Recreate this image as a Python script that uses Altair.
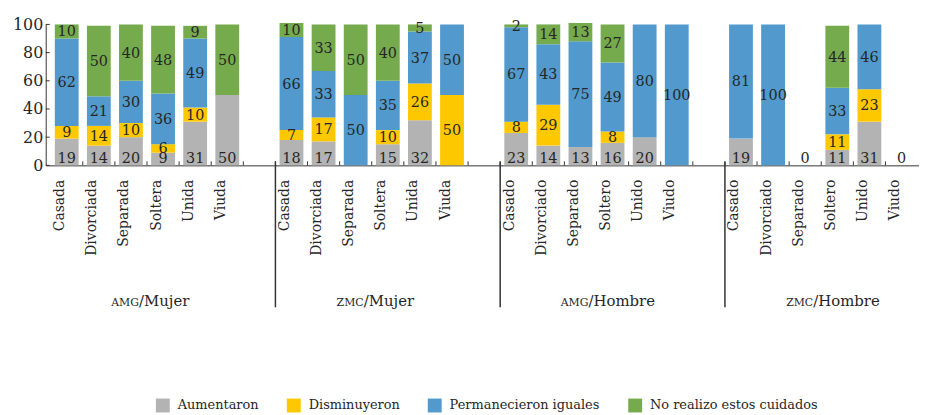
import altair as alt
import pandas as pd

# ---- data ----
group_prefix = ["AMG", "ZMC", "AMG", "ZMC"]
group_suffix = ["/Mujer", "/Mujer", "/Hombre", "/Hombre"]
cats_mujer = ["Casada", "Divorciada", "Separada", "Soltera", "Unida", "Viuda"]
cats_hombre = ["Casado", "Divorciado", "Separado", "Soltero", "Unido", "Viudo"]
series = ["Aumentaron", "Disminuyeron", "Permanecieron iguales", "No realizo estos cuidados"]
colors = ["#B3B3B3", "#FEC800", "#529ACD", "#76AB4D"]

aumentaron = [19, 14, 20, 9, 31, 50, 18, 17, 0, 15, 32, 0, 23, 14, 13, 16, 20, 0, 19, 0, 0, 11, 31, 0]
disminuyeron = [9, 14, 10, 6, 10, 0, 7, 17, 0, 10, 26, 50, 8, 29, 0, 8, 0, 0, 0, 0, 0, 11, 23, 0]
permanecieron = [62, 21, 30, 36, 49, 0, 66, 33, 50, 35, 37, 50, 67, 43, 75, 49, 80, 100, 81, 100, 0, 33, 46, 0]
no_realizo = [10, 50, 40, 48, 9, 50, 10, 33, 50, 40, 5, 0, 2, 14, 13, 27, 0, 0, 0, 0, 0, 44, 0, 0]

values_by_series = [aumentaron, disminuyeron, permanecieron, no_realizo]
group_cats = [cats_mujer, cats_mujer, cats_hombre, cats_hombre]

SLOTS_PER_GROUP = 7  # 6 categories + one blank slot
N_SLOTS_VISIBLE = 26.89

rows = []
slot_labels = []
for g in range(4):
    for c, cat in enumerate(group_cats[g]):
        i = g * 6 + c
        slot = g * SLOTS_PER_GROUP + c
        total = sum(v[i] for v in values_by_series)
        cum = 0
        for s, name in enumerate(series):
            v = values_by_series[s][i]
            rows.append({
                "x": slot + 0.5, "series": name, "sidx": s, "value": v,
                "mid": cum + v / 2.0, "total": total, "base": 0,
            })
            cum += v
    slot_labels += group_cats[g] + [""]

df = pd.DataFrame(rows)
label_positions = [g * SLOTS_PER_GROUP + c + 0.5 for g in range(4) for c in range(6)]
label_expr = "[" + ",".join("'" + s + "'" for s in slot_labels) + "][floor(datum.value)]"

FONT = "DejaVu Serif"
TXT = "#262626"
AX = "#333333"

xscale = alt.Scale(domain=[0, N_SLOTS_VISIBLE], nice=False, zero=False)
yscale = alt.Scale(domain=[0, 100], nice=False)

x_axis = alt.Axis(values=label_positions, labelExpr=label_expr, ticks=False, tickSize=0,
                  labelAngle=-90, labelPadding=14, labelOffset=-7, grid=False, title=None,
                  labelFont=FONT, labelFontSize=14, labelColor=TXT, domainColor=AX,
                  labelFlush=False, labelOverlap=False, labelBound=False)
y_axis = alt.Axis(values=[0, 20, 40, 60, 80, 100], ticks=False, tickSize=0, labelPadding=3,
                  grid=False, title=None, labelFont=FONT, labelFontSize=16,
                  labelColor=TXT, domainColor=AX)


def X(field):
    return alt.X(field, type="quantitative", scale=xscale, axis=x_axis)


def Y(field, **kw):
    return alt.Y(field, type="quantitative", scale=yscale, axis=y_axis, **kw)


bars = alt.Chart(df).mark_bar(size=24).encode(
    x=X("x"),
    y=Y("value", stack="zero"),
    color=alt.Color("series:N", scale=alt.Scale(domain=series, range=colors),
                    legend=alt.Legend(orient="none", legendX=111, legendY=377, direction="horizontal",
                                      symbolType="square", symbolSize=196, symbolStrokeWidth=0,
                                      labelFont=FONT, labelFontSize=13, labelColor=TXT,
                                      labelLimit=400, columnPadding=28, labelOffset=8, title=None)),
    order=alt.Order("sidx:Q", sort="ascending"),
)

mid_labels = alt.Chart(df).transform_filter(
    "datum.sidx > 0 && datum.value > 0"
).mark_text(font=FONT, fontSize=14.5, color=TXT, baseline="middle", dy=1).encode(
    x=X("x"),
    y=Y("mid"),
    text=alt.Text("value:Q"),
)

base_labels = alt.Chart(df).transform_filter(
    "datum.sidx == 0 && (datum.value > 0 || datum.total == 0)"
).mark_text(font=FONT, fontSize=14.5, color=TXT, baseline="alphabetic", dy=-2).encode(
    x=X("x"),
    y=Y("base"),
    text=alt.Text("value:Q"),
)

# inward tick marks on the x axis (slot boundaries)
xticks_df = pd.DataFrame({"x": list(range(1, 27))})
xticks = alt.Chart(xticks_df).mark_rule(color=AX, strokeWidth=1).encode(
    x=X("x"),
    y=alt.value(142), y2=alt.value(138),
)

# inward ticks on y axis
yticks_df = pd.DataFrame({"t": [0, 20, 40, 60, 80, 100]})
yticks = alt.Chart(yticks_df).mark_rule(color=AX, strokeWidth=1).encode(
    y=Y("t"),
    x=alt.value(0), x2=alt.value(4),
)

# group separators
sep_df = pd.DataFrame({"x": [SLOTS_PER_GROUP * g for g in range(1, 4)]})
seps = alt.Chart(sep_df).mark_rule(color=AX, strokeWidth=1.5).encode(
    x=X("x"),
    y=alt.value(138), y2=alt.value(285),
)

# group labels
grp_df = pd.DataFrame({
    "x": [g * SLOTS_PER_GROUP + 2.75 for g in range(4)],
    "prefix": group_prefix,
    "suffix": group_suffix,
})
grp_prefix = alt.Chart(grp_df).mark_text(font=FONT, fontSize=11, color=TXT, align="right",
                                         baseline="alphabetic").encode(
    x=X("x"), y=alt.value(284), text="prefix:N")
grp_suffix = alt.Chart(grp_df).mark_text(font=FONT, fontSize=15, color=TXT, align="left",
                                         baseline="alphabetic").encode(
    x=X("x"), y=alt.value(284), text="suffix:N")

chart = alt.layer(
    bars, mid_labels, base_labels, xticks, yticks, seps, grp_prefix, grp_suffix
).properties(
    width=880, height=142,
    padding={"left": 38, "top": 15, "right": 0, "bottom": 249},
    autosize=alt.AutoSizeParams(type="none"),
).configure_view(stroke=None)

chart.save("out.html", embed_options={"renderer": "svg", "actions": False})
